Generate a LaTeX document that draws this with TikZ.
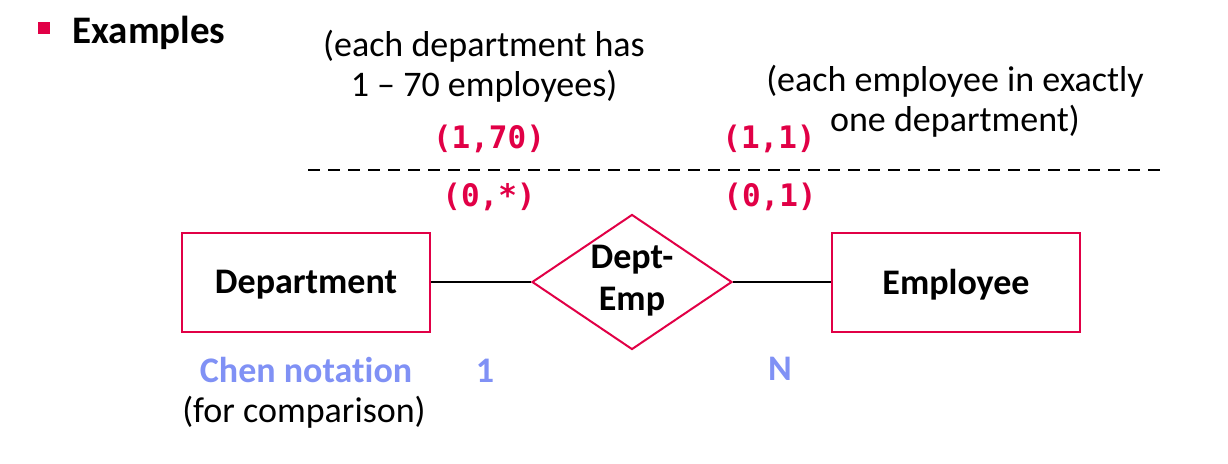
\documentclass[tikz,border=0pt]{standalone}
\usepackage{fontspec}
\setmainfont{Carlito}[Ligatures=NoCommon]
\setmonofont{DejaVu Sans Mono}
\usetikzlibrary{shapes.geometric}
\definecolor{erred}{RGB}{225,0,70}
\definecolor{chenblue}{RGB}{128,145,245}

\begin{document}
\begin{tikzpicture}[x=0.5pt,y=-0.5pt,
    entity/.style={draw=erred,line width=1pt,minimum width=124pt,minimum height=49.5pt,
      text depth=0pt,font=\fontsize{18}{20}\selectfont\bfseries},
    relation/.style={draw=erred,diamond,line width=1pt,shape aspect=1.48,inner sep=0pt,
      minimum width=100pt,minimum height=67.5pt,align=center,font=\fontsize{18}{21}\selectfont\bfseries},
    card/.style={text=erred,font=\fontsize{15.5}{18}\selectfont\ttfamily\bfseries},
    note/.style={align=center,font=\fontsize{18}{20}\selectfont},
    chen/.style={text=chenblue,font=\fontsize{18}{20}\selectfont\bfseries}]
  \useasboundingbox (0,0) rectangle (1228,463);

  \node (bullet) [fill=erred,minimum size=6pt,inner sep=0pt] at (43.5,28) {};
  \node (title) [anchor=base west,inner sep=0pt,font=\fontsize{19.5}{22}\selectfont\bfseries] at (72,43) {Examples};

  \node (deptnote) [note] at (484,66) {(each department has\\1 -- 70 employees)};
  \node (empnote) [note] at (955,101) {(each employee in exactly\\one department)};

  \node (deptmax) [card] at (489,139) {(1,70)};
  \node (empmax) [card] at (769,139) {(1,1)};
  \coordinate (dashL) at (308,170);
  \coordinate (dashR) at (1162,170);
  \draw[dash pattern=on 6pt off 4pt,line width=1pt] (dashL) -- (dashR);
  \node (deptmin) [card] at (489,197) {(0,*)};
  \node (empmin) [card] at (770,197) {(0,1)};

  \node (dept) [entity] at (306,282) {Department};
  \node (deptemp) [relation] at (632,282) {Dept-\\Emp\rule[-4pt]{0pt}{4pt}};
  \node (emp) [entity] at (956,282) {Employee};
  \draw[line width=1pt] (dept) -- (deptemp);
  \draw[line width=1pt] (deptemp) -- (emp);

  \node (chen) [chen] at (306,370) {Chen notation};
  \node (chenone) [chen] at (485,371) {1};
  \node (chenn) [chen] at (780,369) {N};
  \node (compare) [note] at (304,412) {(for comparison)};
\end{tikzpicture}
\end{document}
